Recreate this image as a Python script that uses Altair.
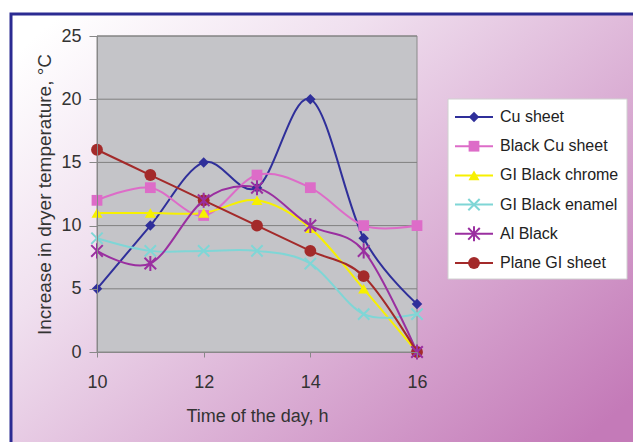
import altair as alt
import pandas as pd

hours = [10, 11, 12, 13, 14, 15, 16]
series_names = ["Cu sheet", "Black Cu sheet", "GI Black chrome",
                "GI Black enamel", "Al Black", "Plane GI sheet"]
cu_sheet = [5, 10, 15, 13, 20, 9, 3.8]
black_cu_sheet = [12, 13, 10.8, 14, 13, 10, 10]
gi_black_chrome = [11, 11, 11, 12, 9.8, 5, 0]
gi_black_enamel = [9, 8, 8, 8, 7, 3, 3]
al_black = [8, 7, 12, 13, 10, 8, 0]
plane_gi_sheet = [16, 14, 12, 10, 8, 6, 0]
y_ticks = [0, 5, 10, 15, 20, 25]
grid_values = [5, 10, 15, 20, 25]

colors = ["#2f2f9a", "#dd6cc8", "#f7f000", "#7fd6d6", "#9a2fa0", "#a32a2a"]
shapes = ["diamond", "square", "triangle-up",
          "M-1,-1L1,1M-1,1L1,-1",
          "M-1,-1L1,1M-1,1L1,-1M0,-1.3L0,1.3",
          "circle"]

all_vals = [cu_sheet, black_cu_sheet, gi_black_chrome, gi_black_enamel, al_black, plane_gi_sheet]
rows = []
for i, (name, vals) in enumerate(zip(series_names, all_vals)):
    for h, v in zip(hours, vals):
        rows.append({"series": name, "order": i, "hour": h, "temp": v})
df = pd.DataFrame(rows)
legend_df = pd.DataFrame({"series": series_names, "idx": list(range(len(series_names)))})
grid_df = pd.DataFrame({"temp": grid_values})
one = pd.DataFrame({"a": [0]})

W, H = 320, 316
FONT = "Liberation Sans"
Y_TITLE = "Increase in dryer temperature, °C"

color_scale = alt.Scale(domain=series_names, range=colors)
shape_scale = alt.Scale(domain=series_names, range=shapes)
y_scale = alt.Scale(domain=[0, 25], nice=False)

x_enc = alt.X("hour:Q", scale=alt.Scale(domain=[10, 16], nice=False),
              axis=alt.Axis(values=[10, 12, 14, 16], title="Time of the day, h",
                            grid=False, zindex=1, tickSize=5, tickColor="#888888",
                            domainColor="#888888", labelPadding=16, labelFontSize=18,
                            labelFlush=False,
                            labelColor="#333333", titleFontSize=18, titleColor="#333333",
                            titleFontWeight="normal", titlePadding=16, labelFont=FONT,
                            titleFont=FONT))
y_axis = alt.Axis(values=y_ticks, title=Y_TITLE,
                  grid=False, zindex=1, tickSize=8, tickColor="#888888",
                  domainColor="#888888", labelPadding=8, labelFontSize=18,
                  labelFlush=False,
                  labelColor="#333333", titleFontSize=19, titleColor="#333333",
                  titleFontWeight="normal", titlePadding=6, labelFont=FONT,
                  titleFont=FONT)
y_enc = alt.Y("temp:Q", scale=y_scale, axis=y_axis, title=Y_TITLE)

gradient = alt.Gradient(
    gradient="linear",
    stops=[alt.GradientStop(color="#ffffff", offset=0),
           alt.GradientStop(color="#f0e0ef", offset=0.3),
           alt.GradientStop(color="#c47ab8", offset=1)],
    x1=0, y1=0.1, x2=1, y2=0.9)

bg = alt.Chart(one).mark_rect(fill=gradient).encode(
    x=alt.value(-86), x2=alt.value(536), y=alt.value(-22), y2=alt.value(406))
frame = alt.Chart(one).mark_rect(fill=None, stroke="#2b2b92", strokeWidth=3).encode(
    x=alt.value(-86), x2=alt.value(700), y=alt.value(-22), y2=alt.value(500))
plot_bg = alt.Chart(one).mark_rect(fill="#c4c4c8", stroke="#8a8a8a", strokeWidth=1).encode(
    x=alt.value(0), x2=alt.value(W), y=alt.value(0), y2=alt.value(H))
grid = alt.Chart(grid_df).mark_rule(color="#808080", strokeWidth=1).encode(
    y=y_enc, x=alt.value(0), x2=alt.value(W))

lines = alt.Chart(df).mark_line(interpolate="cardinal", strokeWidth=2).encode(
    x=x_enc, y=y_enc,
    color=alt.Color("series:N", scale=color_scale, legend=None),
    detail="series:N",
    order=alt.Order("hour:Q"))

pt_sizes = alt.Scale(domain=series_names, range=[110, 140, 130, 90, 120, 190])
filled_list = ["Cu sheet", "Black Cu sheet", "GI Black chrome", "Plane GI sheet"]
stroked_list = ["GI Black enamel", "Al Black"]
filled_pts = alt.Chart(df).transform_filter(
    alt.FieldOneOfPredicate(field="series", oneOf=filled_list)
).mark_point(filled=True, opacity=1).encode(
    x=x_enc, y=y_enc,
    color=alt.Color("series:N", scale=color_scale, legend=None),
    shape=alt.Shape("series:N", scale=shape_scale, legend=None),
    size=alt.Size("series:N", scale=pt_sizes, legend=None))
stroked_pts = alt.Chart(df).transform_filter(
    alt.FieldOneOfPredicate(field="series", oneOf=stroked_list)
).mark_point(filled=False, strokeWidth=2, opacity=1).encode(
    x=x_enc, y=y_enc,
    color=alt.Color("series:N", scale=color_scale, legend=None),
    shape=alt.Shape("series:N", scale=shape_scale, legend=None),
    size=alt.Size("series:N", scale=pt_sizes, legend=None))

main = alt.layer(bg, frame, plot_bg, grid, lines, filled_pts, stroked_pts)

# legend
ly = alt.Y("idx:Q", scale=alt.Scale(domain=[0, 5], range=[81, 227]), axis=None)
leg_box = alt.Chart(one).mark_rect(fill="#ffffff", stroke="#d0d0d0", strokeWidth=1).encode(
    x=alt.value(351), x2=alt.value(530), y=alt.value(63), y2=alt.value(243))
leg_rule = alt.Chart(legend_df).mark_rule(strokeWidth=2).encode(
    y=ly, x=alt.value(358), x2=alt.value(396),
    color=alt.Color("series:N", scale=color_scale, legend=None))
leg_filled = alt.Chart(legend_df).transform_filter(
    alt.FieldOneOfPredicate(field="series", oneOf=filled_list)
).mark_point(filled=True, opacity=1).encode(
    y=ly, x=alt.value(377),
    color=alt.Color("series:N", scale=color_scale, legend=None),
    shape=alt.Shape("series:N", scale=shape_scale, legend=None),
    size=alt.Size("series:N", scale=pt_sizes, legend=None))
leg_stroked = alt.Chart(legend_df).transform_filter(
    alt.FieldOneOfPredicate(field="series", oneOf=stroked_list)
).mark_point(filled=False, strokeWidth=2, opacity=1).encode(
    y=ly, x=alt.value(377),
    color=alt.Color("series:N", scale=color_scale, legend=None),
    shape=alt.Shape("series:N", scale=shape_scale, legend=None),
    size=alt.Size("series:N", scale=pt_sizes, legend=None))
leg_text = alt.Chart(legend_df).mark_text(align="left", baseline="middle", fontSize=16,
                                          font=FONT, color="#222222").encode(
    y=ly, x=alt.value(403), text="series:N")

legend = alt.layer(leg_box, leg_rule, leg_filled, leg_stroked, leg_text)

chart = alt.layer(main, legend).resolve_scale(y="independent").properties(
    width=W, height=H,
    autosize=alt.AutoSizeParams(type="none"),
    padding={"left": 97, "top": 36, "right": 633 - 97 - W, "bottom": 442 - 36 - H},
).configure_view(stroke=None)

chart.save("out.html", embed_options={"renderer": "svg", "actions": False})
